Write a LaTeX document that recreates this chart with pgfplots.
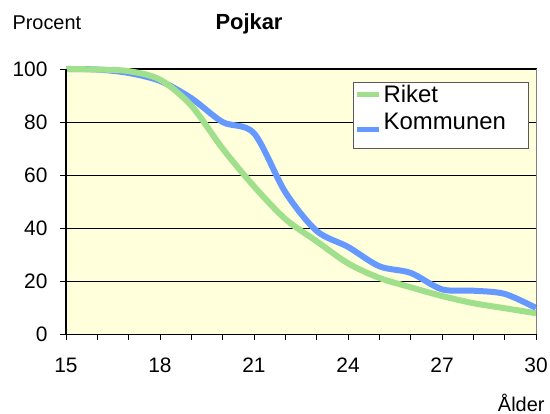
\documentclass[border=0pt]{standalone}
\usepackage{pgfplots}
\pgfplotsset{compat=1.18}
\usepackage{fontspec}
\setmainfont{Liberation Sans}
\definecolor{bgy}{RGB}{255,255,220}
\definecolor{riket}{RGB}{160,224,140}
\definecolor{kommun}{RGB}{102,153,255}
\begin{document}
\begin{tikzpicture}
\useasboundingbox (0bp,0bp) rectangle (550bp,414bp);
\begin{axis}[
  at={(66bp,79.5bp)}, anchor=south west,
  scale only axis, width=470bp, height=265.5bp,
  xmin=15, xmax=30, ymin=0, ymax=100,
  xtick={15,18,...,30},
  minor xtick={16,17,19,20,22,23,25,26,28,29},
  ytick={0,20,...,100},
  tick align=outside, xtick pos=left, ytick pos=left,
  major tick length=6bp, minor tick length=6bp,
  tick style={black, line width=0.8bp},
  ymajorgrids, grid style={black, line width=0.8bp},
  axis background/.style={fill=bgy},
  axis line style={black, line width=1bp},
  /pgf/number format/assume math mode=true,
  ticklabel style={font=\fontsize{21}{25}\selectfont},
  xticklabel style={yshift=-14bp},
  yticklabel style={xshift=-9bp},
  clip=false,
  reverse legend,
  legend cell align=left,
  legend style={at={(0.986,0.95)}, anchor=north east,
    draw=gray!70!black, fill=white, line width=1bp,
    font=\fontsize{24}{28}\selectfont,
    inner xsep=1bp, inner ysep=0bp, row sep=5bp},
  legend image code/.code={\draw[#1, line width=5bp] (0bp,0bp) -- (22bp,0bp);},
]
\addplot[kommun, line width=6bp, smooth] coordinates {
(15,100) (16,99.8) (17,98.5) (18,95.5) (19,89) (20,80) (21,75.8) (22,53.6)
(23,39) (24,33) (25,25.7) (26,23.2) (27,17) (28,16.5) (29,15.3) (30,10)
};
\addlegendentry[text depth=17bp]{Kommunen\hspace{20bp}\mbox{}}
\addplot[riket, line width=6bp, smooth] coordinates {
(15,100) (16,99.8) (17,99.2) (18,96) (19,86.2) (20,70) (21,55.8) (22,43.5)
(23,35.1) (24,26.8) (25,21.3) (26,17.8) (27,14.5) (28,11.8) (29,9.9) (30,8)
};
\addlegendentry{Riket}
\draw[black, line width=2bp] (rel axis cs:0,0) -- (rel axis cs:0,1);
\draw[gray, line width=1bp] (rel axis cs:1,0) -- (rel axis cs:1,1);
\end{axis}
\node[anchor=base west, font=\fontsize{20}{24}\selectfont] at (9bp,384bp) {Procent};
\node[anchor=base, font=\bfseries\fontsize{22}{26}\selectfont] at (249bp,384bp) {Pojkar};
\node[anchor=base east, font=\fontsize{20}{24}\selectfont] at (548bp,3bp) {Ålder};
\end{tikzpicture}
\end{document}
